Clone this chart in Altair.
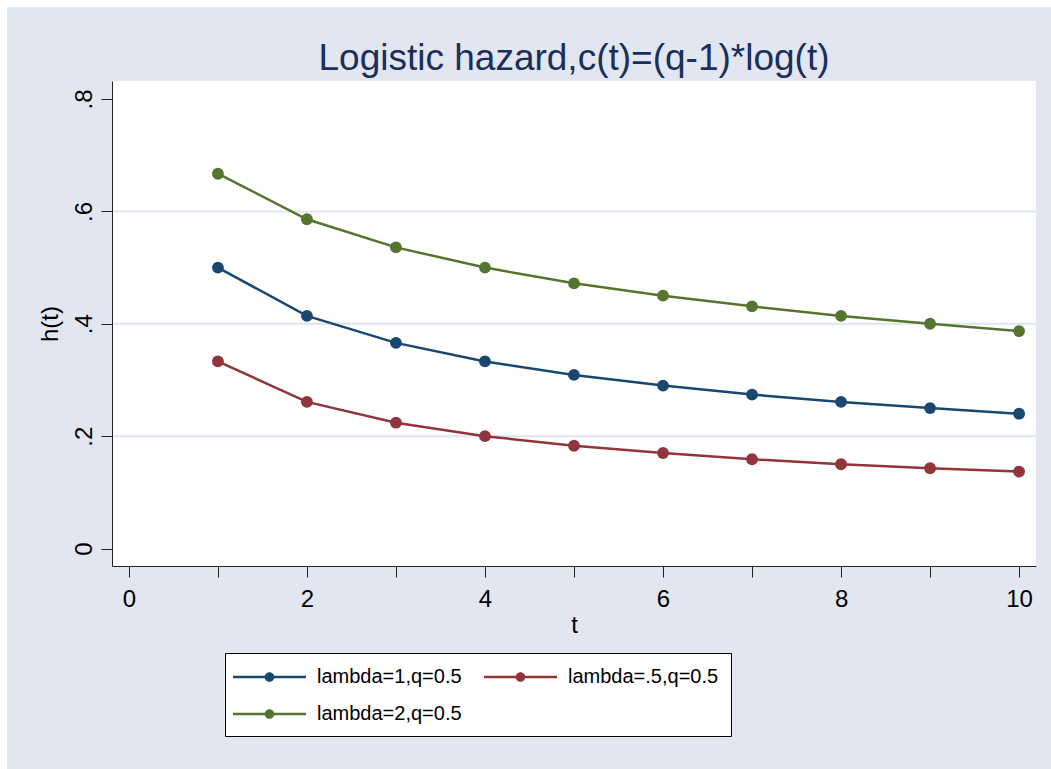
import altair as alt
import pandas as pd

t_values = [1, 2, 3, 4, 5, 6, 7, 8, 9, 10]
lam1 = [0.500, 0.414, 0.366, 0.333, 0.309, 0.290, 0.274, 0.261, 0.250, 0.240]
lam05 = [0.333, 0.261, 0.224, 0.200, 0.183, 0.170, 0.159, 0.150, 0.143, 0.137]
lam2 = [0.667, 0.586, 0.536, 0.500, 0.472, 0.450, 0.431, 0.414, 0.400, 0.387]
series_names = ["lambda=1,q=0.5", "lambda=.5,q=0.5", "lambda=2,q=0.5"]
series_colors = ["#1A476F", "#90353B", "#55752F"]
legend_order = [0, 2, 1]  # column-major legend fill -> row 1: 1, .5 ; row 2: 2
grid_values = [0.2, 0.4, 0.6]
y_ticks = [0, 0.2, 0.4, 0.6, 0.8]
x_ticks = [0, 1, 2, 3, 4, 5, 6, 7, 8, 9, 10]
title_text = ["Logistic hazard,c(t)=(q-1)*log(t)"]

rows = []
for name, vals in zip(series_names, [lam1, lam05, lam2]):
    for t, v in zip(t_values, vals):
        rows.append({"t": t, "h": v, "series": name})
df = pd.DataFrame(rows)
grid_df = pd.DataFrame({"g": grid_values})

FONT = "Liberation Sans"
BG = "#E2E6F0"

xscale = alt.Scale(domain=[-0.19, 10.19], nice=False, zero=False)
yscale = alt.Scale(domain=[-0.031, 0.832], nice=False, zero=False)

xaxis = alt.Axis(values=x_ticks, format="d",
                 labelExpr="datum.value % 2 == 0 ? datum.label : ''",
                 grid=False, tickSize=11, tickColor="#222", domainColor="#222",
                 labelFontSize=24, labelFont=FONT, labelColor="#000", labelPadding=10,
                 titleFontSize=24, titleFont=FONT, titleFontWeight="normal", titleColor="#000",
                 titlePadding=2, labelFlush=False, zindex=1, title="t")
yaxis = alt.Axis(values=y_ticks,
                 labelExpr="datum.value == 0 ? '0' : replace(format(datum.value, '.1f'), '0.', '.')",
                 grid=False, tickSize=11, tickColor="#222", domainColor="#222",
                 labelFontSize=24, labelFont=FONT, labelColor="#000", labelAngle=270,
                 labelAlign="center", labelBaseline="alphabetic", labelPadding=10,
                 titleFontSize=24, titleFont=FONT, titleFontWeight="normal", titleColor="#000",
                 titlePadding=10, labelFlush=False, zindex=1, title="h(t)")

bgrect = alt.Chart(pd.DataFrame({"a": [0]})).mark_rect(color=BG).encode(
    x=alt.value(-105), x2=alt.value(960), y=alt.value(-74), y2=alt.value(700)
)
plotbg = alt.Chart(pd.DataFrame({"a": [0]})).mark_rect(color="white").encode(
    x=alt.value(0), x2=alt.value(924), y=alt.value(0), y2=alt.value(485)
)
title = alt.Chart(pd.DataFrame({"txt": title_text})).mark_text(
    font=FONT, fontSize=37, color="#1C2E5A", align="center", baseline="alphabetic"
).encode(text="txt:N", x=alt.value(462), y=alt.value(-11))

grid = alt.Chart(grid_df).mark_rule(color="#E0E5EF", strokeWidth=2).encode(
    y=alt.Y("g:Q", scale=yscale, axis=yaxis)
)

line_layers = []
for name, col in zip(series_names, series_colors):
    line_layers.append(
        alt.Chart(df).transform_filter(alt.datum.series == name)
        .mark_line(strokeWidth=2.5, color=col).encode(
            x=alt.X("t:Q", scale=xscale, axis=xaxis),
            y=alt.Y("h:Q", scale=yscale, axis=yaxis),
        )
    )

# legend symbol: a line segment with a dot, built in pixel units then scaled
SYM = 24.0            # nominal symbol size (px); path units = SYM/2 px
u = SYM / 2.0
x0, x1 = -4.0 / u - 1, (-4.0 + 73.0) / u - 1
cx = (x0 + x1) / 2
hh = 1.25 / u
rr = 4.8 / u
sym = (f"M{x0:.4f},{-hh:.4f}L{x1:.4f},{-hh:.4f}L{x1:.4f},{hh:.4f}L{x0:.4f},{hh:.4f}Z"
       f"M{cx + rr:.4f},0A{rr:.4f},{rr:.4f},0,1,1,{cx - rr:.4f},0"
       f"A{rr:.4f},{rr:.4f},0,1,1,{cx + rr:.4f},0Z")

leg_domain = [series_names[i] for i in legend_order]
leg_range = [series_colors[i] for i in legend_order]
fill_scale = alt.Scale(domain=leg_domain, range=leg_range)

points = alt.Chart(df).mark_circle(size=140, opacity=1).encode(
    x=alt.X("t:Q", scale=xscale, axis=xaxis),
    y=alt.Y("h:Q", scale=yscale, axis=yaxis),
    fill=alt.Fill("series:N", scale=fill_scale, sort=leg_domain,
                  legend=alt.Legend(title=None, orient="none", legendX=113, legendY=572,
                                    columns=2, symbolType=sym, symbolSize=SYM * SYM,
                                    symbolStrokeWidth=0, symbolOpacity=1,
                                    labelFont=FONT,
                                    labelFontSize=20, labelColor="#000", labelOffset=84 - SYM - 4,
                                    columnPadding=22, rowPadding=15, padding=12,
                                    fillColor="white", strokeColor="#000",
                                    labelLimit=400, zindex=2)),
)

chart = alt.layer(bgrect, plotbg, grid, title, *line_layers, points).properties(
    width=924, height=485,
    autosize=alt.AutoSizeParams(type="none"),
    padding={"left": 112, "top": 81, "right": 15, "bottom": 203},
    background="white",
).configure_view(stroke=None, fill=None)

chart.save("out.html", embed_options={"renderer": "svg", "actions": False})
